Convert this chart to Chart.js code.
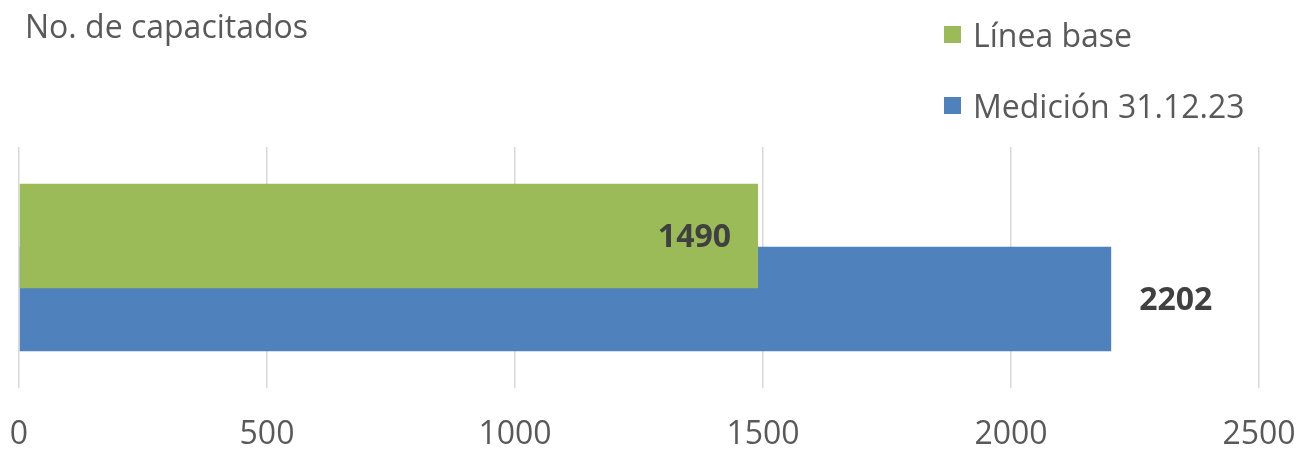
<!DOCTYPE html>
<html>
<head>
<meta charset="utf-8">
<script src="https://cdn.jsdelivr.net/npm/chart.js@4/dist/chart.umd.min.js"></script>
<style>
  html, body { margin: 0; padding: 0; background: #ffffff; }
  #wrap { width: 1301px; height: 450px; position: relative; }
</style>
</head>
<body>
<div id="wrap"><canvas id="c"></canvas></div>
<script>
// ---- data ----
const categories = ['No. de capacitados'];
const seriesNames = ['Línea base', 'Medición 31.12.23'];
const lineaBase = [1490];
const medicion = [2202];
const xTicks = [0, 500, 1000, 1500, 2000, 2500];
const chartTitle = 'No. de capacitados';
const seriesColors = ['#9BBB59', '#4F81BD'];

const FONT = "'Open Sans', 'Liberation Sans', Arial, sans-serif";
const TEXT_COLOR = '#595959';

// Title, legend and value labels drawn on the canvas
const decorations = {
  id: 'decorations',
  afterDatasetsDraw(chart) {
    const ctx = chart.ctx;
    ctx.save();
    ctx.font = 'bold 32px ' + FONT;
    ctx.fillStyle = '#404040';
    ctx.textBaseline = 'middle';
    chart.data.datasets.forEach((ds, i) => {
      const meta = chart.getDatasetMeta(i);
      meta.data.forEach((el, j) => {
        const txt = String(ds.data[j]);
        if (i === 0) {
          ctx.textAlign = 'right';
          ctx.fillText(txt, el.x - 27, el.y + 2);
        } else {
          ctx.textAlign = 'left';
          ctx.fillText(txt, el.x + 28, el.y + 2);
        }
      });
    });
    ctx.restore();
  },
  afterDraw(chart) {
    const ctx = chart.ctx;
    ctx.save();
    ctx.font = '32px ' + FONT;
    ctx.fillStyle = TEXT_COLOR;
    ctx.textBaseline = 'alphabetic';
    ctx.textAlign = 'left';
    ctx.fillText(chartTitle, 25, 38);
    const baselines = [47, 118];
    chart.data.datasets.forEach((ds, i) => {
      const b = baselines[i];
      ctx.fillStyle = ds.backgroundColor;
      ctx.fillRect(944, b - 21, 17, 17);
      ctx.fillStyle = TEXT_COLOR;
      ctx.fillText(ds.label, 973, b);
    });
    ctx.restore();
  }
};

new Chart(document.getElementById('c'), {
  type: 'bar',
  data: {
    labels: categories,
    datasets: [
      { label: seriesNames[0], data: lineaBase, backgroundColor: seriesColors[0] },
      { label: seriesNames[1], data: medicion, backgroundColor: seriesColors[1] }
    ]
  },
  options: {
    indexAxis: 'y',
    responsive: true,
    maintainAspectRatio: false,
    animation: false,
    categoryPercentage: 0.5228,
    barPercentage: 1.659,
    layout: { padding: { top: 147, left: 19, right: 42, bottom: 0 } },
    plugins: {
      legend: { display: false },
      title: { display: false },
      tooltip: { enabled: false }
    },
    scales: {
      x: {
        min: 0,
        max: 2500,
        afterBuildTicks(scale) { scale.ticks = xTicks.map(v => ({ value: v })); },
        grid: { color: '#D9D9D9', lineWidth: 1.5, drawTicks: false },
        border: { display: false },
        ticks: {
          padding: 0,
          color: TEXT_COLOR,
          font: { family: FONT, size: 32, lineHeight: '31px' },
          maxRotation: 0,
          callback: (value) => ['', String(value)]
        }
      },
      y: {
        display: false
      }
    }
  },
  plugins: [decorations]
});
</script>
</body>
</html>
